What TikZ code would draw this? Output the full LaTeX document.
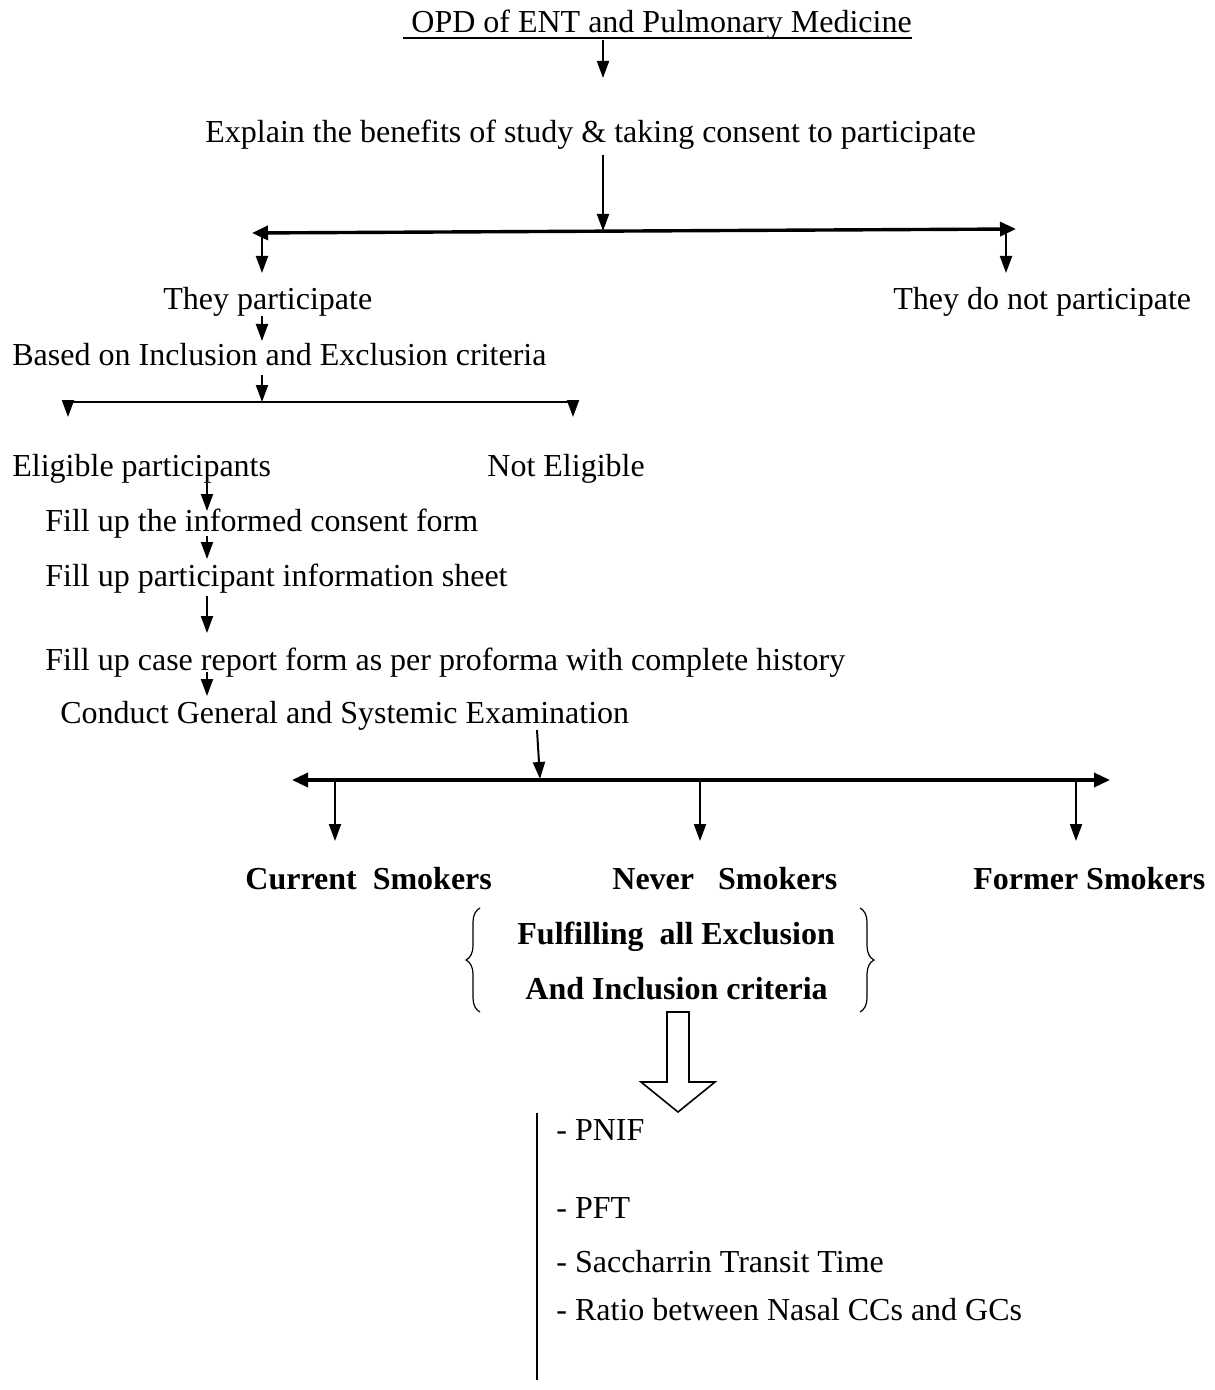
\documentclass[tikz,border=0pt]{standalone}
\usepackage{fontspec}
\setmainfont{Liberation Serif}
\usetikzlibrary{arrows.meta,decorations.pathreplacing}
\begin{document}
\begin{tikzpicture}[x=0.5pt,y=-0.5pt,
  txt/.style={font=\fontsize{16}{19}\selectfont, inner sep=0pt, anchor=base west},
  btxt/.style={font=\fontsize{16}{19}\selectfont\bfseries, inner sep=0pt, anchor=base west},
  arr/.style={line width=1pt, -{Triangle[length=8.5pt,width=6pt]}},
  bigline/.style={line width=1.7pt, {Triangle[length=8pt,width=7pt]}-{Triangle[length=8pt,width=7pt]}},
  thinline/.style={line width=1pt},
  uline/.style={line width=0.7pt},
  brc/.style={line width=0.6pt, decorate, decoration={brace, amplitude=7pt}},
  hollow/.style={line width=0.8pt, fill=white}]
\useasboundingbox (0,0) rectangle (1214,1390);

% texts
\node[txt] (title) at (403,33) {\ OPD of ENT and Pulmonary Medicine};
\node[txt] (explain) at (205,143) {Explain the benefits of study \& taking consent to participate};
\node[txt] (part) at (163,310) {They participate};
\node[txt] (notpart) at (893,310) {They do not participate};
\node[txt] (based) at (12,365) {Based on Inclusion and Exclusion criteria};
\node[txt] (elig) at (12,476) {Eligible participants};
\node[txt] (notelig) at (487,476) {Not Eligible};
\node[txt] (fa) at (45,531) {Fill up the informed consent form};
\node[txt] (fb) at (45,586) {Fill up participant information sheet};
\node[txt] (fc) at (45,670) {Fill up case report form as per proforma with complete history};
\node[txt] (cond) at (60,723) {Conduct General and Systemic Examination};
\node[btxt] (cur) at (245,889) {Current\ \ Smokers};
\node[btxt] (nev) at (612,889) {Never\ \ \ Smokers};
\node[btxt] (form) at (973,889) {Former Smokers};
\node[btxt] (fulA) at (517,944) {Fulfilling\ \ all Exclusion};
\node[btxt] (fulB) at (525,999) {And Inclusion criteria};
\node[txt] (pnif) at (556,1140) {- PNIF};
\node[txt] (pft) at (556,1218) {- PFT};
\node[txt] (sac) at (556,1272) {- Saccharrin Transit Time};
\node[txt] (ratio) at (556,1320) {- Ratio between Nasal CCs and GCs};

% title underline
\draw[uline] ([yshift=-2.6pt]title.base west) -- ([yshift=-2.6pt]title.base east);

% junction coordinates
\coordinate (t1) at (603,40);
\coordinate (t2) at (603,78);
\coordinate (e1) at (603,155);
\coordinate (e2) at (603,231);
\coordinate (hl) at (252,233);
\coordinate (hr) at (1016,229);
\coordinate (pl) at (262,233);
\coordinate (pl2) at (262,273);
\coordinate (pr) at (1006,229);
\coordinate (pr2) at (1006,273);
\coordinate (b1) at (262,316);
\coordinate (b2) at (262,341);
\coordinate (c1) at (262,375);
\coordinate (c2) at (262,402);
\coordinate (el) at (68,402);
\coordinate (er) at (573,402);
\coordinate (el2) at (68,417);
\coordinate (er2) at (573,417);
\coordinate (d1) at (207,478);
\coordinate (d2) at (207,511);
\coordinate (d3) at (207,536);
\coordinate (d4) at (207,559);
\coordinate (d5) at (207,596);
\coordinate (d6) at (207,633);
\coordinate (d7) at (207,672);
\coordinate (d8) at (207,696);
\coordinate (g1) at (537,730);
\coordinate (g2) at (540,779);
\coordinate (sl) at (292,780);
\coordinate (sr) at (1110,780);
\coordinate (s1) at (335,780);
\coordinate (s1b) at (335,841);
\coordinate (s2) at (700,780);
\coordinate (s2b) at (700,841);
\coordinate (s3) at (1076,780);
\coordinate (s3b) at (1076,841);
\coordinate (vt) at (537,1113);
\coordinate (vb) at (537,1380);

% connectors
\draw[arr] (t1) -- (t2);
\draw[arr] (e1) -- (e2);
\draw[bigline] (hl) -- (hr);
\draw[arr] (pl) -- (pl2);
\draw[arr] (pr) -- (pr2);
\draw[arr] (b1) -- (b2);
\draw[arr] (c1) -- (c2);
\draw[thinline] (el) -- (er);
\draw[arr] (el) -- (el2);
\draw[arr] (er) -- (er2);
\draw[arr] (d1) -- (d2);
\draw[arr] (d3) -- (d4);
\draw[arr] (d5) -- (d6);
\draw[arr] (d7) -- (d8);
\draw[arr] (g1) -- (g2);
\draw[bigline] (sl) -- (sr);
\draw[arr] (s1) -- (s1b);
\draw[arr] (s2) -- (s2b);
\draw[arr] (s3) -- (s3b);

% braces
\draw[brc] (480,1012) -- (480,908);
\draw[brc] (860,908) -- (860,1012);

% hollow arrow
\draw[hollow] (667,1012) -- (667,1082) -- (641,1082) -- (678,1112) -- (715,1082) -- (689,1082) -- (689,1012) -- cycle;

% vertical bar
\draw[thinline] (vt) -- (vb);
\end{tikzpicture}
\end{document}
